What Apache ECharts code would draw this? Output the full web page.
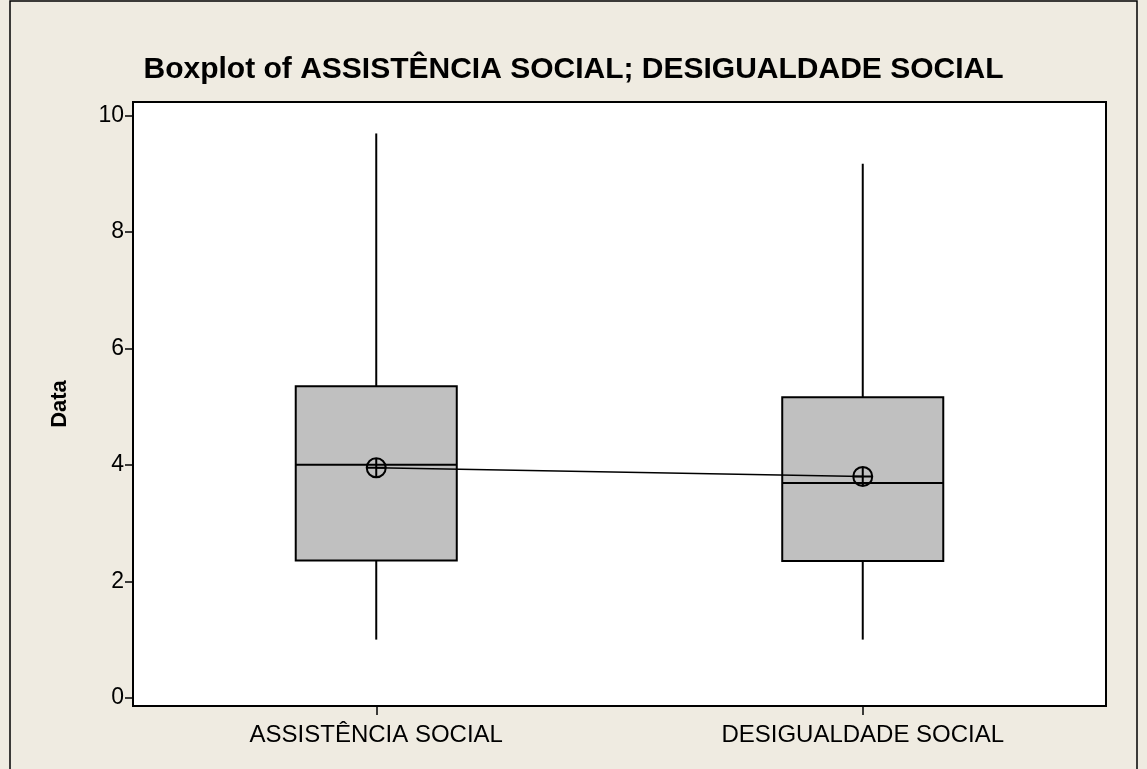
<!DOCTYPE html>
<html>
<head>
<meta charset="UTF-8">
<script src="https://cdn.jsdelivr.net/npm/echarts@6/dist/echarts.min.js"></script>
<title>Boxplot</title>
<style>
  html, body { margin: 0; padding: 0; background: #efebe1; }
  #main { width: 1147px; height: 769px; }
</style>
</head>
<body>
<div id="main"></div>
<script>
// values
var categories = ['ASSISTÊNCIA SOCIAL', 'DESIGUALDADE SOCIAL'];
var whiskerLow = [1.0, 1.0];
var q1 = [2.36, 2.35];
var median = [4.0, 3.69];
var q3 = [5.35, 5.16];
var whiskerHigh = [9.69, 9.17];
var means = [3.95, 3.80];
var yTicks = [0, 2, 4, 6, 8, 10];

var boxData = categories.map(function (c, i) {
  return [i, whiskerLow[i], q1[i], median[i], q3[i], whiskerHigh[i]];
});

var sans = '"Liberation Sans", Arial, sans-serif';
var lineStyle = { stroke: '#000', lineWidth: 2 };

function renderBox(params, api) {
  var i = api.value(0);
  var pLow = api.coord([i, api.value(1)]);
  var pQ1 = api.coord([i, api.value(2)]);
  var pMed = api.coord([i, api.value(3)]);
  var pQ3 = api.coord([i, api.value(4)]);
  var pHigh = api.coord([i, api.value(5)]);
  var half = api.size([1, 0])[0] * 0.331 / 2;
  var x = pQ1[0];
  return {
    type: 'group',
    children: [
      { type: 'line', shape: { x1: x, y1: pLow[1], x2: x, y2: pQ1[1] }, style: lineStyle },
      { type: 'line', shape: { x1: x, y1: pQ3[1], x2: x, y2: pHigh[1] }, style: lineStyle },
      { type: 'rect', shape: { x: x - half, y: pQ3[1], width: half * 2, height: pQ1[1] - pQ3[1] },
        style: { fill: '#c0c0c0', stroke: '#000', lineWidth: 2 } },
      { type: 'line', shape: { x1: x - half, y1: pMed[1], x2: x + half, y2: pMed[1] }, style: lineStyle }
    ]
  };
}

var myChart = echarts.init(document.getElementById('main'));
var option = {
  backgroundColor: '#efebe1',
  animation: false,
  title: {
    text: 'Boxplot of ASSISTÊNCIA SOCIAL; DESIGUALDADE SOCIAL',
    left: 'center',
    top: 50,
    textStyle: { fontFamily: sans, fontSize: 30, fontWeight: 'bold', color: '#000' }
  },
  graphic: [{
    type: 'rect',
    shape: { x: 10, y: 1, width: 1127, height: 790 },
    style: { fill: 'none', stroke: '#000', lineWidth: 1.5 },
    silent: true
  }],
  grid: {
    left: 133, right: 41, top: 102, bottom: 63,
    show: true,
    backgroundColor: '#fff',
    borderColor: '#000',
    borderWidth: 2
  },
  xAxis: {
    type: 'category',
    data: categories,
    axisLine: { onZero: false, lineStyle: { color: '#000', width: 2 } },
    axisTick: { show: true, interval: 0, alignWithLabel: true, length: 9, lineStyle: { color: '#000', width: 1.5 } },
    axisLabel: { margin: 17, fontFamily: sans, fontSize: 24, color: '#000' },
    splitLine: { show: false }
  },
  yAxis: {
    type: 'value',
    min: -0.14,
    max: 10.23,
    name: 'Data',
    nameLocation: 'middle',
    nameGap: 62,
    nameTextStyle: { fontFamily: sans, fontSize: 22, fontWeight: 'bold', color: '#000' },
    axisLine: { show: true, onZero: false, lineStyle: { color: '#000', width: 2 } },
    axisTick: { show: true, length: 8, customValues: yTicks, lineStyle: { color: '#000', width: 1.5 } },
    axisLabel: { margin: 9, customValues: yTicks, fontFamily: sans, fontSize: 23, color: '#000' },
    splitLine: { show: false }
  },
  series: [{
    type: 'custom',
    renderItem: renderBox,
    encode: { x: 0, y: [1, 2, 3, 4, 5] },
    data: boxData,
    z: 2
  }, {
    type: 'line',
    data: means,
    symbol: 'path://M10,1 A9,9 0 1 1 9.99,1 Z M10,1 L10,19 M1,10 L19,10',
    symbolSize: 19,
    itemStyle: { color: 'transparent', borderColor: '#000', borderWidth: 2 },
    lineStyle: { color: '#000', width: 1.5 },
    z: 3
  }]
};
myChart.setOption(option);
</script>
</body>
</html>
